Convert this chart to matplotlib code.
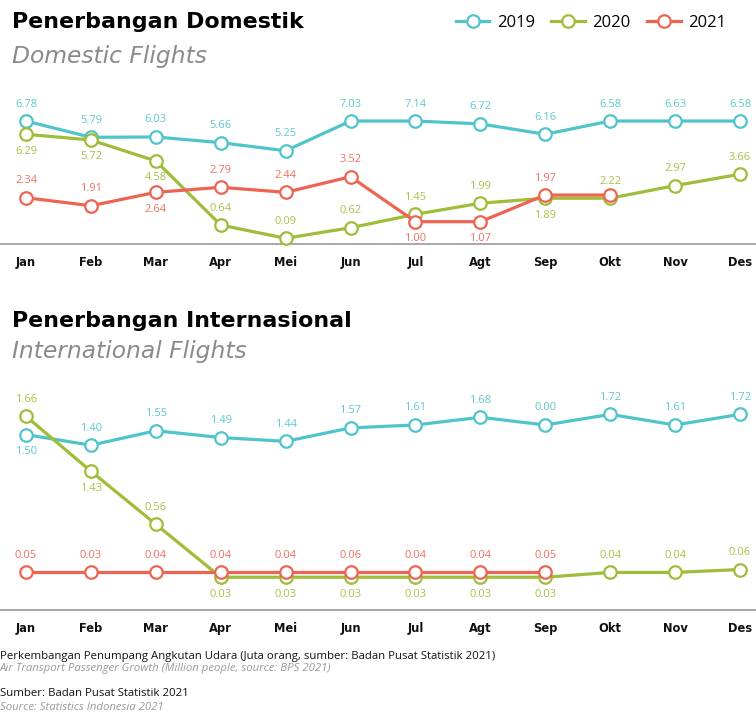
import matplotlib
matplotlib.use("Agg")
import matplotlib.pyplot as plt
from matplotlib.lines import Line2D

months = ["Jan", "Feb", "Mar", "Apr", "Mei", "Jun", "Jul", "Agt", "Sep", "Okt", "Nov", "Des"]
years = ["2019", "2020", "2021"]

# Domestic flights (million passengers) - plotted values read from point positions
dom_2019 = [7.08, 6.11, 6.13, 5.79, 5.31, 7.08, 7.08, 6.91, 6.29, 7.08, 7.08, 7.08]
dom_2020 = [6.29, 5.95, 4.70, 0.88, 0.09, 0.72, 1.52, 2.18, 2.48, 2.48, 3.23, 3.91]
dom_2021 = [2.51, 2.03, 2.83, 3.13, 2.83, 3.76, 1.08, 1.08, 2.67, 2.67]
# Printed value labels
dom_2019_lbl = ["6.78", "5.79", "6.03", "5.66", "5.25", "7.03", "7.14", "6.72", "6.16", "6.58", "6.63", "6.58"]
dom_2020_lbl = ["6.29", "5.72", "4.58", "0.64", "0.09", "0.62", "1.45", "1.99", "1.89", "2.22", "2.97", "3.66"]
dom_2021_lbl = ["2.34", "1.91", "2.64", "2.79", "2.44", "3.52", "1.00", "1.07", "1.97", ""]
# label side: +1 above, -1 below
dom_2019_side = [1] * 12
dom_2020_side = [-1, -1, -1, 1, 1, 1, 1, 1, -1, 1, 1, 1]
dom_2021_side = [1, 1, -1, 1, 1, 1, -1, -1, 1, 1]

# International flights
int_2019 = [1.51, 1.40, 1.55, 1.48, 1.44, 1.58, 1.61, 1.69, 1.61, 1.72, 1.61, 1.72]
int_2020 = [1.70, 1.13, 0.58, 0.03, 0.03, 0.03, 0.03, 0.03, 0.03, 0.08, 0.08, 0.11]
int_2021 = [0.08, 0.08, 0.08, 0.08, 0.08, 0.08, 0.08, 0.08, 0.08]
int_2019_lbl = ["1.50", "1.40", "1.55", "1.49", "1.44", "1.57", "1.61", "1.68", "0.00", "1.72", "1.61", "1.72"]
int_2020_lbl = ["1.66", "1.43", "0.56", "0.03", "0.03", "0.03", "0.03", "0.03", "0.03", "0.04", "0.04", "0.06"]
int_2021_lbl = ["0.05", "0.03", "0.04", "0.04", "0.04", "0.06", "0.04", "0.04", "0.05"]
int_2019_side = [-1, 1, 1, 1, 1, 1, 1, 1, 1, 1, 1, 1]
int_2020_side = [1, -1, 1, -1, -1, -1, -1, -1, -1, 1, 1, 1]
int_2021_side = [1] * 9

colors = {"2019": "#4fc4ca", "2020": "#9fbd38", "2021": "#ee6452"}
lbl_colors = {"2019": "#5cc8cd", "2020": "#a6c247", "2021": "#ef7060"}

BODY = ["Open Sans", "DejaVu Sans"]
TITLE = ["DejaVu Sans"]
plt.rcParams["font.family"] = BODY

fig = plt.figure(figsize=(7.56, 7.15), dpi=100)
H = 715.0


def panel(bottom_px, top_px, ylim, series, labels, sides):
    ax = fig.add_axes([0, (H - bottom_px) / H, 1, (bottom_px - top_px) / H])
    ax.patch.set_alpha(0)
    x = list(range(12))
    for yr, vals, lbls, sd in zip(years, series, labels, sides):
        xs = x[:len(vals)]
        ax.plot(xs, vals, color=colors[yr], lw=2.3, marker="o", ms=9,
                mfc="white", mec=colors[yr], mew=1.6, clip_on=False, zorder=3)
        for xi, v, l, s in zip(xs, vals, lbls, sd):
            if not l:
                continue
            ax.annotate(l, (xi, v), xytext=(0, 17 * s), textcoords="offset pixels",
                        ha="center", va="center", fontsize=8, color=lbl_colors[yr])
    ax.set_xlim(-0.4006, 11.2465)
    ax.set_ylim(*ylim)
    ax.set_xticks(x)
    ax.set_xticklabels(months, fontsize=8.3, fontweight="bold", color="#111111",
                       family=TITLE)
    ax.tick_params(axis="x", length=0, pad=8.5)
    ax.set_yticks([])
    for s in ["top", "left", "right"]:
        ax.spines[s].set_visible(False)
    ax.spines["bottom"].set_color("#999999")
    ax.spines["bottom"].set_linewidth(1.2)
    return ax


panel(244, 90, (-0.25, 8.93),
      [dom_2019, dom_2020, dom_2021],
      [dom_2019_lbl, dom_2020_lbl, dom_2021_lbl],
      [dom_2019_side, dom_2020_side, dom_2021_side])
panel(610, 390, (-0.31, 1.973),
      [int_2019, int_2020, int_2021],
      [int_2019_lbl, int_2020_lbl, int_2021_lbl],
      [int_2019_side, int_2020_side, int_2021_side])

# Titles
fig.text(12 / 756, 1 - 28 / H, "Penerbangan Domestik", fontsize=15.9, fontweight="bold",
         family=TITLE, color="black", va="baseline")
fig.text(12 / 756, 1 - 62.7 / H, "Domestic Flights", fontsize=16.8, style="italic",
         family=TITLE, color="#8a8a8a", va="baseline")
fig.text(12 / 756, 1 - 327.3 / H, "Penerbangan Internasional", fontsize=15.9, fontweight="bold",
         family=TITLE, color="black", va="baseline")
fig.text(12 / 756, 1 - 358.3 / H, "International Flights", fontsize=16.8, style="italic",
         family=TITLE, color="#8a8a8a", va="baseline")

# Legend
handles = [Line2D([0], [0], color=colors[y], lw=2.3, marker="o", ms=9, mfc="white",
                  mec=colors[y], mew=1.6) for y in years]
fig.legend(handles, years, loc="center right", bbox_to_anchor=(726 / 756, 1 - 23 / H),
           ncol=3, frameon=False, handlelength=2.0, handletextpad=0.45,
           columnspacing=1.0, borderpad=0, borderaxespad=0,
           prop={"family": BODY, "size": 12})

# Footer
fig.text(0.0, 1 - 656 / H, "Perkembangan Penumpang Angkutan Udara (Juta orang, sumber: Badan Pusat Statistik 2021)",
         fontsize=8.2, color="#111111", va="center")
fig.text(0.0, 1 - 669 / H, "Air Transport Passenger Growth (Million people, source: BPS 2021)",
         fontsize=8.2, style="italic", color="#9a9a9a", va="center")
fig.text(0.0, 1 - 694 / H, "Sumber: Badan Pusat Statistik 2021",
         fontsize=8.2, color="#111111", va="center")
fig.text(0.0, 1 - 707 / H, "Source: Statistics Indonesia 2021",
         fontsize=8.2, style="italic", color="#9a9a9a", va="center")

fig.savefig("out.png", dpi=100, facecolor="white")
